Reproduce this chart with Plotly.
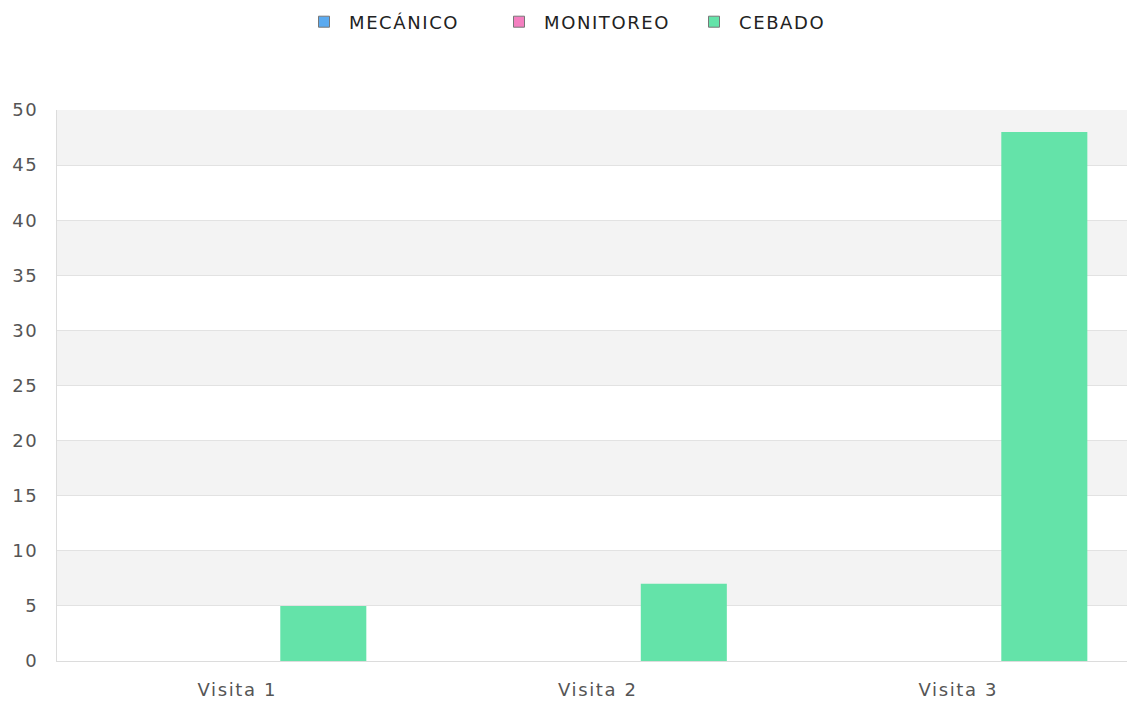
import plotly.graph_objects as go

categories = ["Visita 1", "Visita 2", "Visita 3"]
series_names = ["MECÁNICO", "MONITOREO", "CEBADO"]
mecanico = [0, 0, 0]
monitoreo = [0, 0, 0]
cebado = [5, 7, 48]
colors = ["#5aaaf0", "#f47fc0", "#64e3a9"]
y_ticks = [0, 5, 10, 15, 20, 25, 30, 35, 40, 45, 50]

fig = go.Figure()
for name, vals, col in zip(series_names, [mecanico, monitoreo, cebado], colors):
    fig.add_trace(go.Bar(
        x=categories, y=vals, name=name, showlegend=False, legendgroup=name,
        marker=dict(color=col, line=dict(width=0)),
    ))
# legend entries (square symbols with a grey outline)
for name, col in zip(series_names, colors):
    fig.add_trace(go.Scatter(
        x=[None], y=[None], mode="markers", name=name, legendgroup=name,
        marker=dict(symbol="square", size=11, color=col,
                    line=dict(color="#777777", width=1)),
    ))

# alternating background bands
shapes = []
for i in range(len(y_ticks) - 1):
    if i % 2 == 1:
        shapes.append(dict(type="rect", xref="paper", yref="y", x0=0, x1=1,
                           y0=y_ticks[i], y1=y_ticks[i + 1],
                           fillcolor="#f3f3f3", line=dict(width=0), layer="below"))

W, H = 1127, 705
fig.update_layout(
    width=W, height=H,
    margin=dict(l=57, r=0, t=110, b=44, autoexpand=False),
    paper_bgcolor="white", plot_bgcolor="white",
    font=dict(family="DejaVu Sans", size=18, color="#555555"),
    barmode="group", bargap=0.284, bargroupgap=0,
    shapes=shapes,
    showlegend=True,
    legend=dict(orientation="h", x=299 / W, xanchor="left", xref="container",
                y=1 - 22 / H, yanchor="middle", yref="container",
                font=dict(family="DejaVu Sans", size=18, color="#222222"),
                itemwidth=40, entrywidth=140, traceorder="normal"),
    xaxis=dict(range=[-0.5, 2.468], showgrid=False, showline=True,
               linecolor="#dcdcdc", linewidth=1,
               ticks="", tickfont=dict(size=18, color="#555555"), fixedrange=True,
               automargin=False, ticklabelstandoff=12),
    yaxis=dict(range=[0, 50], tickvals=y_ticks, showgrid=True, gridcolor="#e2e2e2",
               gridwidth=1, showline=True, linecolor="#dcdcdc", linewidth=1,
               zeroline=False, ticks="", ticklabelstandoff=14, automargin=False,
               tickfont=dict(size=18, color="#555555")),
)

page_css = (
    "var s=document.createElement('style');"
    "s.innerHTML='html,body{margin:0;padding:0;overflow:hidden;}"
    ".xtick text,.ytick text,.legendtext{letter-spacing:1.6px !important;}';"
    "document.head.appendChild(s);"
)
fig.write_html("out.html", post_script=page_css,
               config={"displayModeBar": False})
